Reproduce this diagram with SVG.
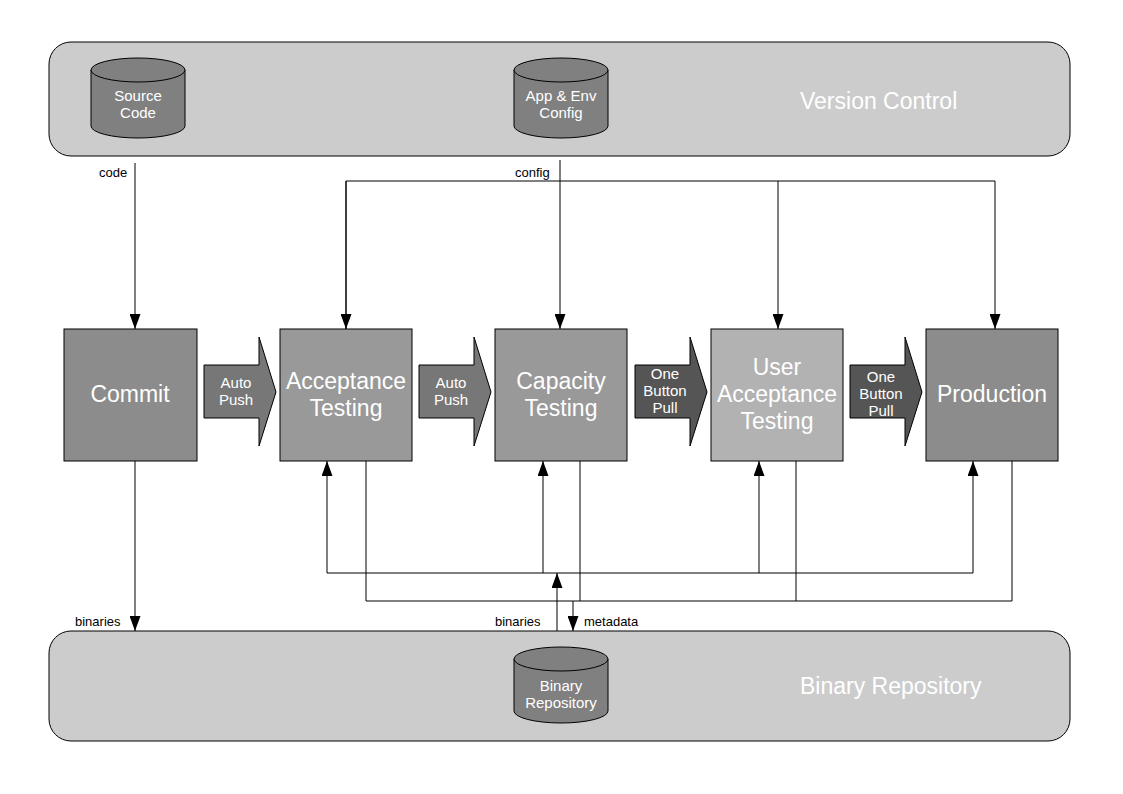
<svg xmlns="http://www.w3.org/2000/svg" width="1123" height="794" viewBox="0 0 1123 794">
<defs>
<marker id="ah" viewBox="0 0 10 10" refX="10" refY="5" markerWidth="15" markerHeight="11" markerUnits="userSpaceOnUse" orient="auto" preserveAspectRatio="none"><path d="M0,0L10,5L0,10z" fill="#000"/></marker>
<style>
text{font-family:"Liberation Sans",Arial,sans-serif}
.lane{fill:#cccccc;stroke:#000;stroke-width:1}
.lt{fill:#fff;font-size:23px}
.box{stroke:#000;stroke-width:1}
.bt{fill:#fff;font-size:23px;text-anchor:middle}
.cyl{fill:#808080;stroke:#000;stroke-width:1}
.ct{fill:#fff;font-size:15px;text-anchor:middle}
.ar{stroke:#000;stroke-width:1}
.at{fill:#fff;font-size:15px;text-anchor:middle}
.ln{fill:none;stroke:#000;stroke-width:1}
.lb{font-size:13px;fill:#000}
</style>
</defs>
<rect width="1123" height="794" fill="#fff"/>
<g id="version-control"><rect class="lane" x="49" y="42" width="1021" height="114" rx="22"/><text class="lt" x="800" y="109">Version Control</text></g>
<g id="binary-repository"><rect class="lane" x="49" y="631" width="1021" height="110" rx="22"/><text class="lt" x="800" y="694">Binary Repository</text></g>
<g id="source-code"><path class="cyl" d="M91,70V126A47,12 0 0 0 185,126V70"/><ellipse class="cyl" cx="138" cy="70" rx="47" ry="12"/><text class="ct" x="138" y="101">Source</text><text class="ct" x="138" y="118">Code</text></g>
<g id="app-env-config"><path class="cyl" d="M514,70V126A47,12 0 0 0 608,126V70"/><ellipse class="cyl" cx="561" cy="70" rx="47" ry="12"/><text class="ct" x="561" y="101">App &amp; Env</text><text class="ct" x="561" y="118">Config</text></g>
<g id="binary-repo-db"><path class="cyl" d="M514,659V711A47,12 0 0 0 608,711V659"/><ellipse class="cyl" cx="561" cy="659" rx="47" ry="12"/><text class="ct" x="561" y="691">Binary</text><text class="ct" x="561" y="708">Repository</text></g>
<g id="commit"><rect class="box" x="64" y="329" width="133" height="132" fill="#8c8c8c"/><text class="bt" x="130" y="402">Commit</text></g>
<g id="acceptance"><rect class="box" x="280" y="329" width="132" height="132" fill="#999"/><text class="bt" x="346" y="389">Acceptance</text><text class="bt" x="346" y="416">Testing</text></g>
<g id="capacity"><rect class="box" x="495" y="329" width="132" height="132" fill="#999"/><text class="bt" x="561" y="389">Capacity</text><text class="bt" x="561" y="416">Testing</text></g>
<g id="uat"><rect class="box" x="711" y="329" width="132" height="132" fill="#b2b2b2"/><text class="bt" x="777" y="375">User</text><text class="bt" x="777" y="402">Acceptance</text><text class="bt" x="777" y="429">Testing</text></g>
<g id="production"><rect class="box" x="926" y="329" width="132" height="132" fill="#8c8c8c"/><text class="bt" x="992" y="402">Production</text></g>
<g id="push1"><path class="ar" fill="#777" d="M204,365H259V337L276,392L259,446V418H204z"/><text class="at" x="236" y="388">Auto</text><text class="at" x="236" y="405">Push</text></g>
<g id="push2"><path class="ar" fill="#777" d="M419,365H474V337L491,392L474,446V418H419z"/><text class="at" x="451" y="388">Auto</text><text class="at" x="451" y="405">Push</text></g>
<g id="pull1"><path class="ar" fill="#555" d="M635,365H690V337L707,392L690,446V418H635z"/><text class="at" x="665" y="379">One</text><text class="at" x="665" y="396">Button</text><text class="at" x="665" y="413">Pull</text></g>
<g id="pull2"><path class="ar" fill="#555" d="M850,365H905V337L922,392L905,446V418H850z"/><text class="at" x="881" y="382">One</text><text class="at" x="881" y="399">Button</text><text class="at" x="881" y="416">Pull</text></g>
<g id="connectors">
<path class="ln" d="M135,163V329" marker-end="url(#ah)"/>
<path class="ln" d="M560,160V329" marker-end="url(#ah)"/>
<path class="ln" d="M346,329V181H995"/>
<path class="ln" d="M346,181V329" marker-end="url(#ah)"/>
<path class="ln" d="M778,181V329" marker-end="url(#ah)"/>
<path class="ln" d="M995,181V329" marker-end="url(#ah)"/>
<path class="ln" d="M135,461V631" marker-end="url(#ah)"/>
<path class="ln" d="M327,573H973"/>
<path class="ln" d="M327,573V461" marker-end="url(#ah)"/>
<path class="ln" d="M543,573V461" marker-end="url(#ah)"/>
<path class="ln" d="M759,573V461" marker-end="url(#ah)"/>
<path class="ln" d="M973,573V461" marker-end="url(#ah)"/>
<path class="ln" d="M557,631V573" marker-end="url(#ah)"/>
<path class="ln" d="M366,461V601H1012V461"/>
<path class="ln" d="M580,461V601"/>
<path class="ln" d="M796,461V601"/>
<path class="ln" d="M573,601V631" marker-end="url(#ah)"/>
<text class="lb" x="99" y="177">code</text>
<text class="lb" x="515" y="177">config</text>
<text class="lb" x="75" y="626">binaries</text>
<text class="lb" x="495" y="626">binaries</text>
<text class="lb" x="584" y="626">metadata</text>
</g>
</svg>
